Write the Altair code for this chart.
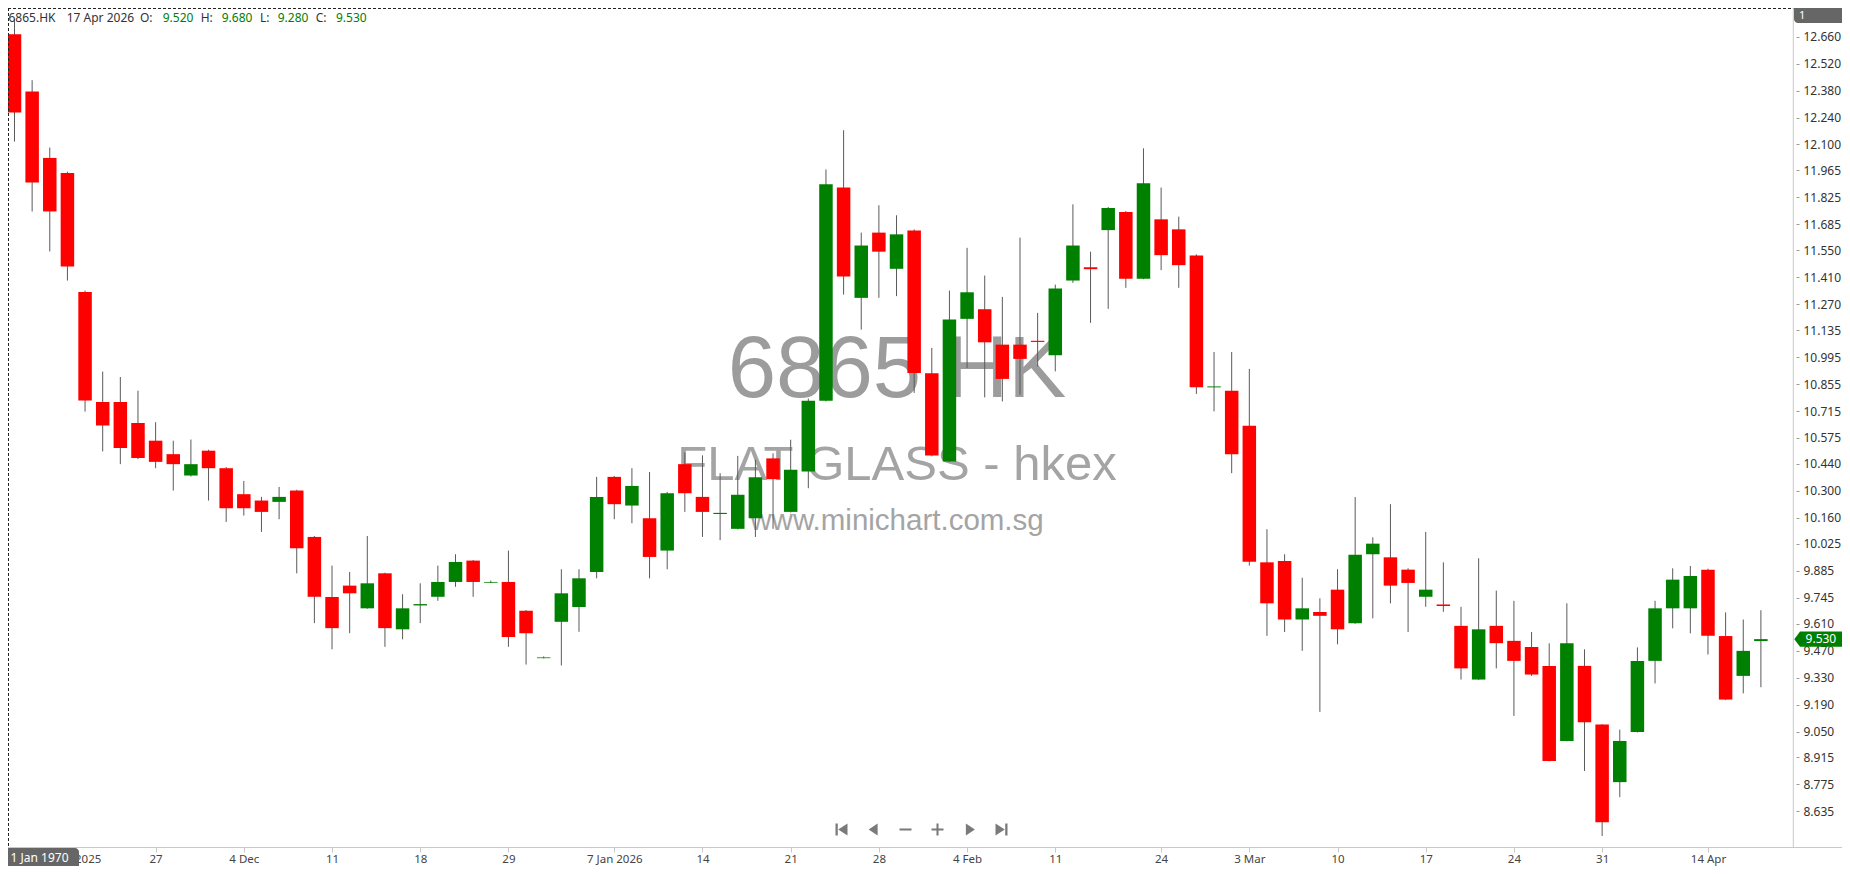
import altair as alt
import pandas as pd

dates = [
    "2025-11-17", "2025-11-18", "2025-11-19", "2025-11-20", "2025-11-21", "2025-11-24", "2025-11-25", "2025-11-26", "2025-11-27", "2025-11-28",
    "2025-12-01", "2025-12-02", "2025-12-03", "2025-12-04", "2025-12-05", "2025-12-08", "2025-12-09", "2025-12-10", "2025-12-11", "2025-12-12",
    "2025-12-15", "2025-12-16", "2025-12-17", "2025-12-18", "2025-12-19", "2025-12-22", "2025-12-23", "2025-12-24", "2025-12-29", "2025-12-30",
    "2025-12-31", "2026-01-02", "2026-01-05", "2026-01-06", "2026-01-07", "2026-01-08", "2026-01-09", "2026-01-12", "2026-01-13", "2026-01-14",
    "2026-01-15", "2026-01-16", "2026-01-19", "2026-01-20", "2026-01-21", "2026-01-22", "2026-01-23", "2026-01-26", "2026-01-27", "2026-01-28",
    "2026-01-29", "2026-01-30", "2026-02-02", "2026-02-03", "2026-02-04", "2026-02-05", "2026-02-06", "2026-02-09", "2026-02-10", "2026-02-11",
    "2026-02-12", "2026-02-13", "2026-02-16", "2026-02-20", "2026-02-23", "2026-02-24", "2026-02-25", "2026-02-26", "2026-02-27", "2026-03-02",
    "2026-03-03", "2026-03-04", "2026-03-05", "2026-03-06", "2026-03-09", "2026-03-10", "2026-03-11", "2026-03-12", "2026-03-13", "2026-03-16",
    "2026-03-17", "2026-03-18", "2026-03-19", "2026-03-20", "2026-03-23", "2026-03-24", "2026-03-25", "2026-03-26", "2026-03-27", "2026-03-30",
    "2026-03-31", "2026-04-01", "2026-04-02", "2026-04-08", "2026-04-09", "2026-04-10", "2026-04-14", "2026-04-15", "2026-04-16", "2026-04-17",
]

opens = [
    12.673, 12.375, 12.030, 11.952, 11.334, 10.762, 10.762, 10.653, 10.561, 10.491,
    10.380, 10.509, 10.418, 10.283, 10.250, 10.243, 10.302, 10.061, 9.749, 9.808,
    9.690, 9.872, 9.581, 9.705, 9.750, 9.827, 9.938, 9.823, 9.827, 9.677,
    9.431, 9.620, 9.697, 9.879, 10.373, 10.224, 10.158, 9.990, 10.439, 10.269,
    10.180, 10.103, 10.158, 10.469, 10.191, 10.401, 10.769, 11.876, 11.303, 11.642,
    11.454, 11.653, 10.911, 10.453, 11.194, 11.244, 11.060, 11.060, 11.080, 11.005,
    11.393, 11.462, 11.655, 11.749, 11.402, 11.711, 11.659, 11.523, 10.838, 10.821,
    10.639, 9.929, 9.936, 9.632, 9.671, 9.787, 9.612, 9.971, 9.955, 9.891,
    9.750, 9.710, 9.599, 9.320, 9.599, 9.521, 9.489, 9.391, 9.001, 9.391,
    9.086, 8.787, 9.048, 9.417, 9.690, 9.690, 9.891, 9.546, 9.339, 9.520,
]

highs = [
    12.752, 12.434, 12.084, 11.959, 11.341, 10.920, 10.892, 10.821, 10.657, 10.561,
    10.567, 10.514, 10.424, 10.352, 10.269, 10.321, 10.306, 10.066, 9.912, 9.879,
    10.066, 9.875, 9.763, 9.820, 9.912, 9.971, 9.941, 9.834, 9.990, 9.681,
    9.440, 9.893, 9.893, 10.373, 10.378, 10.418, 10.398, 10.295, 10.500, 10.485,
    10.392, 10.482, 10.462, 10.495, 10.566, 10.780, 11.970, 12.174, 11.642, 11.784,
    11.732, 11.659, 11.043, 11.341, 11.563, 11.419, 11.308, 11.616, 11.225, 11.372,
    11.789, 11.543, 11.775, 11.754, 12.080, 11.876, 11.725, 11.529, 11.022, 11.022,
    10.934, 10.101, 9.971, 9.849, 9.742, 9.893, 10.268, 10.059, 10.231, 9.898,
    10.087, 9.929, 9.698, 9.950, 9.782, 9.729, 9.567, 9.508, 9.716, 9.477,
    9.088, 9.060, 9.487, 9.729, 9.898, 9.910, 9.896, 9.669, 9.632, 9.680,
]

lows = [
    12.115, 11.752, 11.544, 11.393, 10.712, 10.505, 10.439, 10.465, 10.418, 10.302,
    10.375, 10.250, 10.139, 10.172, 10.087, 10.153, 9.872, 9.613, 9.477, 9.561,
    9.688, 9.490, 9.529, 9.613, 9.729, 9.802, 9.750, 9.822, 9.490, 9.398,
    9.430, 9.393, 9.568, 9.846, 10.153, 10.132, 9.846, 9.893, 10.191, 10.061,
    10.044, 10.100, 10.061, 10.103, 10.188, 10.314, 10.765, 11.320, 11.138, 11.303,
    11.312, 10.809, 10.480, 10.450, 10.939, 10.786, 10.765, 10.800, 10.947, 10.921,
    11.381, 11.173, 11.246, 11.355, 11.400, 11.447, 11.355, 10.804, 10.713, 10.392,
    9.912, 9.547, 9.567, 9.469, 9.152, 9.503, 9.610, 9.638, 9.716, 9.567,
    9.698, 9.672, 9.320, 9.318, 9.378, 9.131, 9.339, 8.895, 8.999, 8.845,
    8.507, 8.709, 9.045, 9.300, 9.586, 9.560, 9.450, 9.214, 9.248, 9.280,
]

closes = [
    12.266, 11.902, 11.752, 11.466, 10.770, 10.640, 10.523, 10.471, 10.451, 10.439,
    10.439, 10.418, 10.210, 10.210, 10.191, 10.269, 10.002, 9.750, 9.587, 9.768,
    9.820, 9.587, 9.690, 9.712, 9.827, 9.931, 9.827, 9.827, 9.541, 9.561,
    9.435, 9.768, 9.846, 10.269, 10.231, 10.326, 9.957, 10.288, 10.288, 10.191,
    10.186, 10.280, 10.371, 10.361, 10.410, 10.769, 11.893, 11.414, 11.575, 11.543,
    11.633, 10.913, 10.484, 11.190, 11.332, 11.072, 10.882, 10.986, 11.074, 11.352,
    11.575, 11.452, 11.770, 11.402, 11.898, 11.525, 11.473, 10.838, 10.843, 10.491,
    9.932, 9.716, 9.632, 9.690, 9.651, 9.581, 9.969, 10.026, 9.808, 9.822,
    9.787, 9.702, 9.378, 9.581, 9.509, 9.417, 9.346, 8.897, 9.508, 9.098,
    8.579, 9.001, 9.417, 9.690, 9.839, 9.858, 9.547, 9.216, 9.469, 9.530,
]

tick_idx = [3, 8, 13, 18, 23, 28, 34, 39, 44, 49, 54, 59, 65, 70, 75, 80, 85, 90, 96]
tick_labels = ["20 Nov 2025", "27", "4 Dec", "11", "18", "29", "7 Jan 2026", "14", "21", "28",
               "4 Feb", "11", "24", "3 Mar", "10", "17", "24", "31", "14 Apr"]

y_ticks = [12.660, 12.520, 12.380, 12.240, 12.100, 11.965, 11.825, 11.685, 11.550, 11.410,
           11.270, 11.135, 10.995, 10.855, 10.715, 10.575, 10.440, 10.300, 10.160, 10.025,
           9.885, 9.745, 9.610, 9.470, 9.330, 9.190, 9.050, 8.915, 8.775, 8.635]

symbol = "6865.HK"
company = "FLAT GLASS - hkex"
site = "www.minichart.com.sg"
last_date_label = "17 Apr 2026"

GREEN = "#008000"
RED = "#ff0000"
UI_FONT = "Noto Sans"

df = pd.DataFrame({"i": list(range(len(dates))), "date": dates, "o": opens,
                   "h": highs, "l": lows, "c": closes})
df["dir"] = ["up" if c >= o else "down" for o, c in zip(opens, closes)]

W, H = 1784, 839

x_scale = alt.Scale(domain=[-0.085, 100.48], nice=False, zero=False)
y_scale = alt.Scale(domain=[8.450, 12.809], nice=False, zero=False)

label_expr = "[" + ",".join("'%s'" % t for t in tick_labels) + "][indexof([" + \
    ",".join(str(v) for v in tick_idx) + "], datum.value)]"

x_axis = alt.Axis(values=tick_idx, labelExpr=label_expr, title=None, grid=False, domain=False,
                  tickSize=5, tickColor="#c8c8c8", labelPadding=1, labelFont=UI_FONT,
                  labelFontSize=11.5, labelColor="#444444", labelOverlap=False, labelFlush=False)
y_axis = alt.Axis(orient="right", values=y_ticks, format=".3f", title=None, grid=False,
                  domain=False, tickSize=3, tickColor="#999999", offset=4, labelPadding=4,
                  labelFont=UI_FONT, labelFontSize=12, labelColor="#333333", labelAlign="left",
                  labelBaseline="middle", labelOverlap=False, labelFlush=False)

X = alt.X("i:Q", scale=x_scale, axis=x_axis)

layers = []


def txt(text, x, y, size, color, font=UI_FONT, align="left", baseline="middle", opacity=1.0):
    return alt.Chart(pd.DataFrame({"t": [text]})).mark_text(
        font=font, fontSize=size, color=color, align=align, baseline=baseline, opacity=opacity
    ).encode(text="t:N", x=alt.value(x), y=alt.value(y))


def vrule(x, y1, y2, color, dash=None):
    kw = dict(color=color, strokeWidth=1)
    if dash:
        kw["strokeDash"] = dash
    return alt.Chart(pd.DataFrame({"a": [0]})).mark_rule(**kw).encode(
        x=alt.value(x), y=alt.value(y1), y2=alt.value(y2))


def hrule(y, x1, x2, color, dash=None):
    kw = dict(color=color, strokeWidth=1)
    if dash:
        kw["strokeDash"] = dash
    return alt.Chart(pd.DataFrame({"a": [0]})).mark_rule(**kw).encode(
        y=alt.value(y), x=alt.value(x1), x2=alt.value(x2))


# watermark (behind candles)
layers.append(txt(symbol, 889, 389, 87, "#9c9c9c", font="Liberation Sans", align="center", baseline="alphabetic"))
layers.append(txt(company, 889, 472, 49, "#a4a4a4", font="Liberation Sans", align="center", baseline="alphabetic"))
layers.append(txt(site, 889, 522, 29.5, "#a4a4a4", font="Liberation Sans", align="center", baseline="alphabetic"))

# candles
wicks = alt.Chart(df).mark_rule(color="#5a5a5a", strokeWidth=1).encode(
    x=X, y=alt.Y("l:Q", scale=y_scale, axis=y_axis), y2="h:Q")
bodies = alt.Chart(df).mark_bar(size=13.5).encode(
    x=X, y=alt.Y("o:Q", scale=y_scale, axis=y_axis), y2="c:Q",
    color=alt.Color("dir:N", scale=alt.Scale(domain=["up", "down"], range=[GREEN, RED]), legend=None),
    tooltip=["date:N", "o:Q", "h:Q", "l:Q", "c:Q"])
layers += [wicks, bodies]

# frame lines
layers.append(hrule(0.5, 0, 1786, "#222222", [3, 2]))
layers.append(vrule(0.5, 0, H, "#222222", [3, 2]))
layers.append(vrule(1785.3, 0, H, "#c8c8c8"))
layers.append(hrule(H + 0.5, 0, 1834, "#c8c8c8"))

# header
last = df.iloc[-1]
header = [
    (symbol, 0.5, "#333333"),
    (last_date_label, 58.7, "#333333"),
    ("O:", 132, "#333333"), ("%.3f" % last["o"], 154.7, GREEN),
    ("H:", 192.7, "#333333"), ("%.3f" % last["h"], 213.7, GREEN),
    ("L:", 252, "#333333"), ("%.3f" % last["l"], 269.7, GREEN),
    ("C:", 307.7, "#333333"), ("%.3f" % last["c"], 328, GREEN),
]
for t, x, col in header:
    layers.append(txt(t, x, 10.3, 12, col))

# last price tag on the axis
tag_path = "M-1,0 L-0.767,-0.312 L1,-0.312 L1,0.312 L-0.767,0.312 Z"
last_df = df.tail(1)
layers.append(alt.Chart(last_df).mark_point(shape=tag_path, size=2401, filled=True, color=GREEN,
                                            opacity=1, strokeWidth=0).encode(
    x=alt.value(1810.8), y=alt.Y("c:Q", scale=y_scale, axis=y_axis)))
layers.append(alt.Chart(last_df).mark_text(font=UI_FONT, fontSize=12, color="white", align="center",
                                           baseline="middle").encode(
    x=alt.value(1812.9), y=alt.Y("c:Q", scale=y_scale, axis=y_axis), text=alt.Text("c:Q", format=".3f")))

# top-right "1" box
layers.append(alt.Chart(pd.DataFrame({"a": [0]})).mark_rect(color="#666666", cornerRadius=4).encode(
    x=alt.value(1786), x2=alt.value(1840), y=alt.value(-10), y2=alt.value(15)))
layers.append(txt("1", 1791, 8, 11, "white"))

# crosshair date box bottom-left
layers.append(alt.Chart(pd.DataFrame({"a": [0]})).mark_rect(color="#666666", cornerRadius=4).encode(
    x=alt.value(-8), x2=alt.value(71), y=alt.value(840), y2=alt.value(866)))
layers.append(txt("1 Jan 1970", 31.5, 850, 12, "white", align="center"))

# navigation buttons
nav = [
    ("M-1,-1 L-0.62,-1 L-0.62,1 L-1,1 Z M1,-1 L-0.55,0 L1,1 Z", 833.5),
    ("M0.6,-1 L-0.9,0 L0.6,1 Z", 866),
    ("M-1,-0.17 L1,-0.17 L1,0.17 L-1,0.17 Z", 897.5),
    ("M-1,-0.17 L1,-0.17 L1,0.17 L-1,0.17 Z M-0.17,-1 L0.17,-1 L0.17,1 L-0.17,1 Z", 929.5),
    ("M-0.6,-1 L0.9,0 L-0.6,1 Z", 961.5),
    ("M-1,-1 L0.55,0 L-1,1 Z M0.62,-1 L1,-1 L1,1 L0.62,1 Z", 993.5),
]
for path, x in nav:
    layers.append(alt.Chart(pd.DataFrame({"a": [0]})).mark_point(
        shape=path, size=144, filled=True, color="#7a7a7a", opacity=1, strokeWidth=0).encode(
        x=alt.value(x), y=alt.value(821.5)))

chart = alt.layer(*layers).properties(
    width=W, height=H,
    autosize=alt.AutoSizeParams(type="none"),
    padding={"left": 0, "top": 0, "right": 50, "bottom": 19},
    background="white",
).configure_view(stroke=None)

chart.save("out.html", embed_options={"renderer": "svg", "actions": False})
